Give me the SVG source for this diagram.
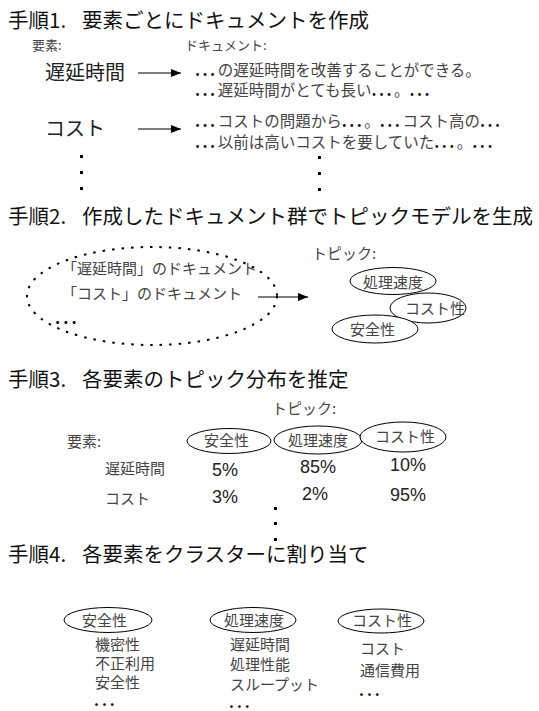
<svg xmlns="http://www.w3.org/2000/svg" width="539" height="711" viewBox="0 0 539 711">
<defs>
<marker id="ah" markerWidth="10" markerHeight="8" refX="10" refY="4" orient="auto" markerUnits="userSpaceOnUse"><path d="M0,0 L10,4 L0,8 z" fill="#000"/></marker>
<style>
text{font-family:"Noto Sans CJK JP","Noto Sans",sans-serif}
.title{font-size:20.5px;fill:#111}
.t{fill:#444}
.big{font-size:20px;fill:#222}
.doc{font-size:15.5px;fill:#444}
.dd{font-weight:bold;fill:#111;letter-spacing:2.5px}
.lbl{font-size:15px;fill:#444}
.num{font-family:"Liberation Sans",Arial,sans-serif;font-size:18px;fill:#222}
.el{fill:#fff;stroke:#000;stroke-width:1}
.dot{fill:#000}
.conn{stroke:#000;stroke-width:1.2;fill:none;marker-end:url(#ah)}
.dell{fill:none;stroke:#000;stroke-width:2;stroke-dasharray:2.5 7}
.ell3{font-size:15px;fill:#111;font-weight:bold;letter-spacing:3px}
</style>
</defs>
<rect width="539" height="711" fill="#fff"/>

<!-- Step 1 -->
<g id="step1">
<text class="title" x="8" y="28">手順1.<tspan x="82">要素ごとにドキュメントを作成</tspan></text>
<text class="t" x="32" y="50" font-size="13">要素:</text>
<text class="t" x="185" y="50" font-size="13">ドキュメント:</text>
</g>
<g id="elem-latency"><text class="big" x="45" y="80">遅延時間</text></g>
<g id="elem-cost"><text class="big" x="45" y="136">コスト</text></g>
<g id="docs-latency">
<text class="doc" x="195" y="76"><tspan class="dd">...</tspan>の遅延時間を改善することができる。</text>
<text class="doc" x="195" y="96"><tspan class="dd">...</tspan>遅延時間がとても長い<tspan class="dd">...</tspan>。<tspan class="dd">...</tspan></text>
</g>
<g id="docs-cost">
<text class="doc" x="195" y="127"><tspan class="dd">...</tspan>コストの問題から<tspan class="dd">...</tspan>。<tspan class="dd">...</tspan>コスト高の<tspan class="dd">...</tspan></text>
<text class="doc" x="195" y="148"><tspan class="dd">...</tspan>以前は高いコストを要していた<tspan class="dd">...</tspan>。<tspan class="dd">...</tspan></text>
</g>
<g id="vdots1">
<rect class="dot" x="80" y="155" width="3" height="3"/>
<rect class="dot" x="80" y="171" width="3" height="3"/>
<rect class="dot" x="80" y="187" width="3" height="3"/>
<rect class="dot" x="318" y="156" width="3" height="3"/>
<rect class="dot" x="318" y="172" width="3" height="3"/>
<rect class="dot" x="318" y="188" width="3" height="3"/>
</g>

<!-- Step 2 -->
<g id="step2">
<text class="title" x="8" y="224">手順2.<tspan x="82">作成したドキュメント群でトピックモデルを生成</tspan></text>
</g>
<g id="doc-set">
<ellipse class="dell" cx="152" cy="296" rx="125" ry="49"/>
<text class="lbl" x="62" y="274">「遅延時間」のドキュメント</text>
<text class="lbl" x="62" y="299">「コスト」のドキュメント</text>
<text x="55" y="324" font-size="16" font-weight="bold" fill="#000" letter-spacing="3">...</text>
</g>
<g id="topics2">
<text class="lbl" x="312" y="259">トピック:</text>
<g id="t2-cost"><ellipse class="el" cx="428" cy="308" rx="38" ry="15"/><text class="lbl" x="405" y="314">コスト性</text></g>
<g id="t2-speed"><ellipse class="el" cx="393" cy="281" rx="43" ry="13.5"/><text class="lbl" x="363" y="288" font-size="16">処理速度</text></g>
<g id="t2-safe"><ellipse class="el" cx="375" cy="329" rx="43" ry="14"/><text class="lbl" x="350" y="335" font-size="16">安全性</text></g>
</g>

<!-- Step 3 -->
<g id="step3">
<text class="title" x="8" y="387">手順3.<tspan x="82">各要素のトピック分布を推定</tspan></text>
<text class="lbl" x="272" y="414">トピック:</text>
<text class="lbl" x="67" y="447" font-size="14">要素:</text>
</g>
<g id="t3-safe"><ellipse class="el" cx="229" cy="441" rx="42" ry="12.5"/><text class="lbl" x="204" y="446" font-size="16">安全性</text></g>
<g id="t3-speed"><ellipse class="el" cx="318" cy="440" rx="44" ry="14"/><text class="lbl" x="288" y="446" font-size="15.5">処理速度</text></g>
<g id="t3-cost"><ellipse class="el" cx="403" cy="437" rx="43" ry="15"/><text class="lbl" x="375" y="442" font-size="15.5">コスト性</text></g>
<g id="row-latency">
<text class="lbl" x="105" y="474">遅延時間</text>
<text class="num" x="212" y="476">5%</text>
<text class="num" x="300" y="473">85%</text>
<text class="num" x="390" y="471">10%</text>
</g>
<g id="row-cost">
<text class="lbl" x="105" y="504">コスト</text>
<text class="num" x="212" y="503">3%</text>
<text class="num" x="302" y="500">2%</text>
<text class="num" x="390" y="501">95%</text>
</g>
<g id="vdots3">
<rect class="dot" x="274" y="507" width="3" height="3"/>
<rect class="dot" x="274" y="522" width="3" height="3"/>
<rect class="dot" x="274" y="538" width="3" height="3"/>
</g>

<!-- Step 4 -->
<g id="step4">
<text class="title" x="8" y="562">手順4.<tspan x="82">各要素をクラスターに割り当て</tspan></text>
</g>
<g id="c-safe">
<ellipse class="el" cx="108" cy="620" rx="44" ry="12.5"/>
<text class="lbl" x="82" y="626" font-size="16.5">安全性</text>
<text class="lbl" x="95" y="650">機密性</text>
<text class="lbl" x="95" y="669">不正利用</text>
<text class="lbl" x="95" y="688">安全性</text>
<text class="ell3" x="94" y="706">...</text>
</g>
<g id="c-speed">
<ellipse class="el" cx="253" cy="620" rx="43" ry="12.5"/>
<text class="lbl" x="224" y="626" font-size="16">処理速度</text>
<text class="lbl" x="230" y="650">遅延時間</text>
<text class="lbl" x="230" y="670">処理性能</text>
<text class="lbl" x="230" y="690">スループット</text>
<text class="ell3" x="229" y="708">...</text>
</g>
<g id="c-cost">
<ellipse class="el" cx="381" cy="621" rx="43" ry="12"/>
<text class="lbl" x="352" y="626" font-size="15.5">コスト性</text>
<text class="lbl" x="360" y="654">コスト</text>
<text class="lbl" x="360" y="676">通信費用</text>
<text class="ell3" x="359" y="696">...</text>
</g>

<g id="connectors">
<line class="conn" x1="138" y1="73" x2="181" y2="73"/>
<line class="conn" x1="138" y1="129" x2="181" y2="129"/>
<line class="conn" x1="258" y1="297" x2="308" y2="297"/>
</g>
</svg>
